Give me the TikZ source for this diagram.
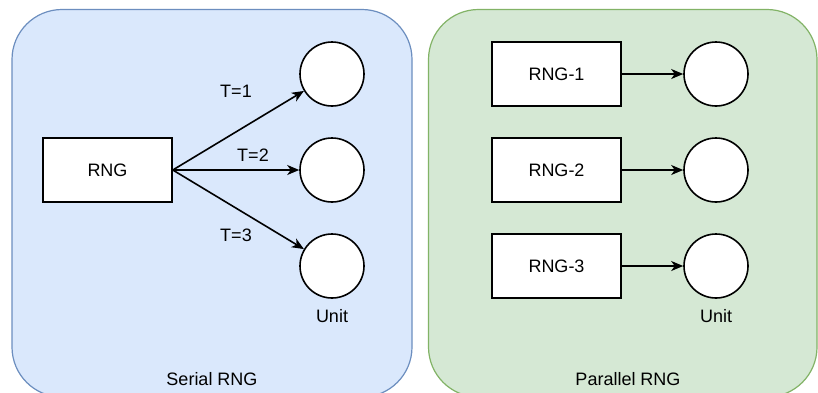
\documentclass[tikz,border=0pt]{standalone}
\usepackage{fontspec}
\setmainfont{Liberation Sans}
\usetikzlibrary{arrows.meta}
\definecolor{serialfill}{HTML}{DAE8FC}
\definecolor{serialline}{HTML}{6C8EBF}
\definecolor{parfill}{HTML}{D5E8D4}
\definecolor{parline}{HTML}{82B366}
\tikzset{
  panel/.style={rounded corners=50pt, line width=1.2pt},
  rngbox/.style={draw, fill=white, line width=1.6pt, minimum width=129pt, minimum height=64pt, inner sep=0pt},
  unit/.style={draw, fill=white, circle, line width=1.6pt, minimum size=64pt, inner sep=0pt},
  link/.style={line width=1.6pt, -{Stealth[length=12pt, width=10pt, inset=3.5pt]}},
  lbl/.style={inner sep=0pt},
}
\begin{document}
\begin{tikzpicture}[x=1pt, y=-1pt, font=\fontsize{18}{21}\selectfont]
\useasboundingbox (0,0) rectangle (818,392);
\fill[white] (0,0) rectangle (818,392);
\clip (0,0) rectangle (818,392);

% panels
\draw[panel, fill=serialfill, draw=serialline] (12,9.5) rectangle (412,397);
\draw[panel, fill=parfill, draw=parline] (428.5,9.5) rectangle (817,397);

% serial generator
\node[rngbox] (rng) at (107.5,170) {RNG};
\node[unit] (s1) at (332,74) {};
\node[unit] (s2) at (332,170) {};
\node[unit] (s3) at (332,266) {};
\draw[link] (rng.east) -- (s1);
\draw[link] (rng.east) -- (s2);
\draw[link] (rng.east) -- (s3);
\node[lbl] (t1) at (236,91) {T=1};
\node[lbl] (t2) at (253,155) {T=2};
\node[lbl] (t3) at (236,235) {T=3};
\node[lbl] (su) at (332,316) {Unit};
\node[lbl] (st) at (212,379) {Serial RNG};

% parallel generators
\node[rngbox] (p1) at (556.5,74) {RNG-1};
\node[rngbox] (p2) at (556.5,170) {RNG-2};
\node[rngbox] (p3) at (556.5,266) {RNG-3};
\node[unit] (u1) at (716,74) {};
\node[unit] (u2) at (716,170) {};
\node[unit] (u3) at (716,266) {};
\draw[link] (p1) -- (u1);
\draw[link] (p2) -- (u2);
\draw[link] (p3) -- (u3);
\node[lbl] (pu) at (716,316) {Unit};
\node[lbl] (pt) at (628,379) {Parallel RNG};
\end{tikzpicture}
\end{document}
